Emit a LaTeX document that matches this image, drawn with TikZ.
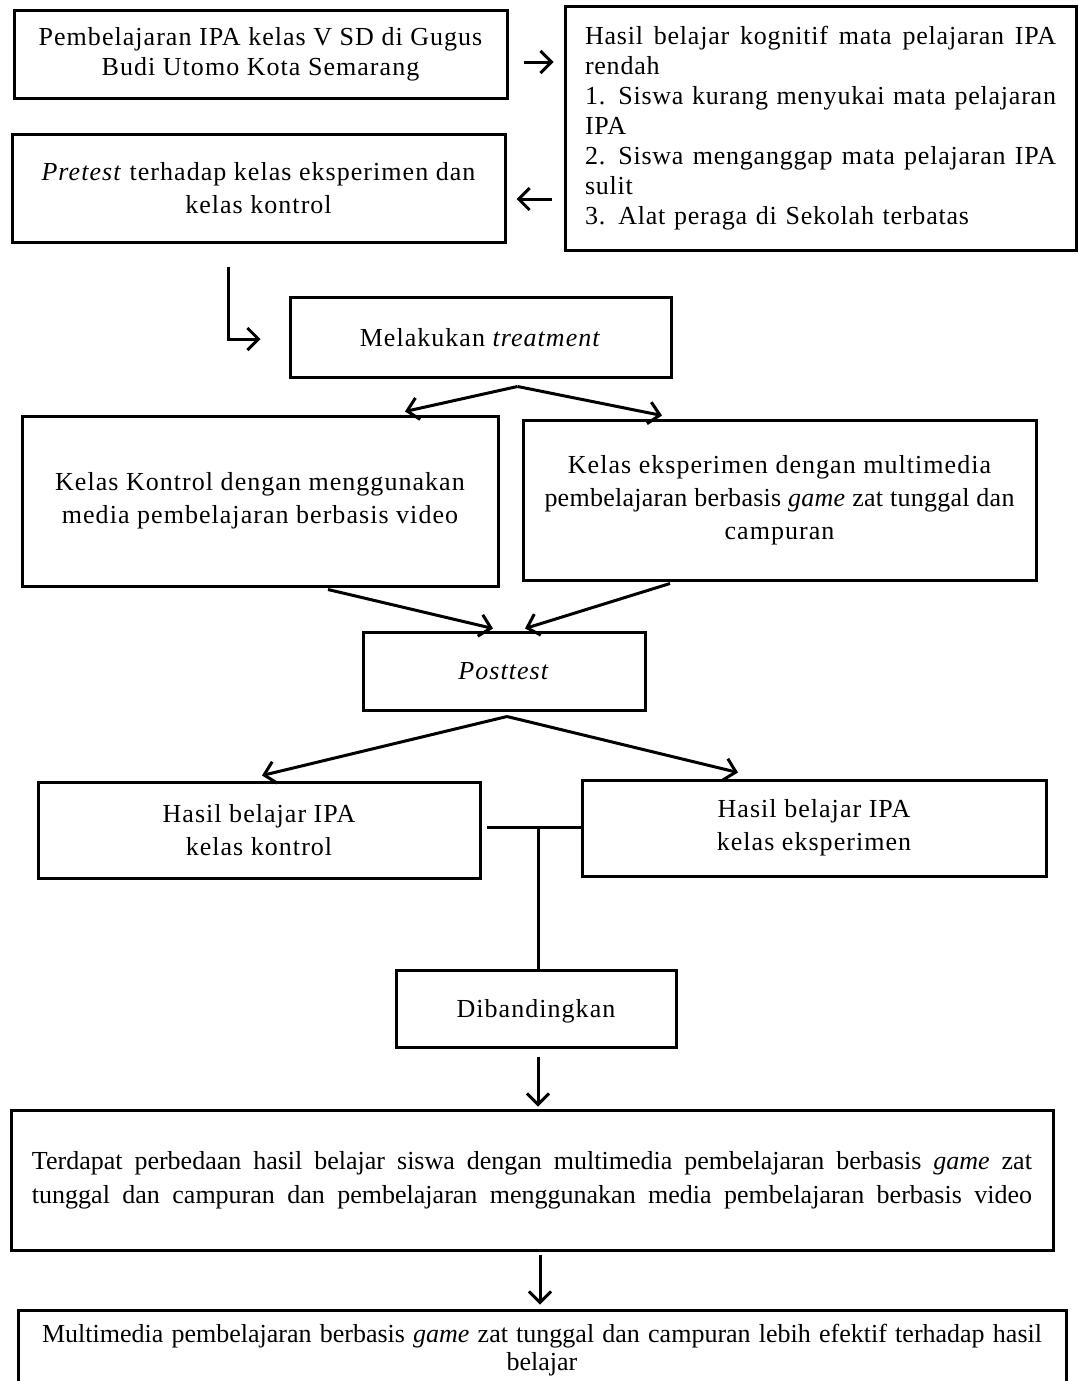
\documentclass[tikz,border=0pt]{standalone}
\usepackage{fontspec}
\setmainfont{Liberation Serif}
\newfontfamily\wide[LetterSpace=4]{Liberation Serif}
\newfontfamily\midw[LetterSpace=3]{Liberation Serif}
\newfontfamily\narrowf[LetterSpace=1]{Liberation Serif}
\newcommand\bspx{\spaceskip=0.28em plus 0.5em minus 0.05em\relax}
\usetikzlibrary{arrows.meta,calc}
\begin{document}
\begin{tikzpicture}[x=0.5pt,y=-0.5pt,
  box/.style={draw, line width=1.5pt, inner sep=0pt, align=center,
    font=\wide\fontsize{13}{16.5}\selectfont},
  arr/.style={line width=1.5pt, -{Straight Barb[length=5.5pt,width=11pt,line width=1.5pt]}},
  ln/.style={line width=1.5pt}]
\useasboundingbox (0,0) rectangle (1078,1381);
\clip (0,0) rectangle (1078,1381);
% boxes
\node[box, minimum width=246.5pt, minimum height=44pt, font=\wide\fontsize{13}{15}\selectfont] (a) at (260.5,54)
  {Pembelajaran IPA kelas V SD di Gugus\\Budi Utomo Kota Semarang};
\node[box, align=left, text width=235.5pt, inner xsep=10pt, minimum height=122pt,
  font=\midw\fontsize{13}{15}\selectfont] (b) at (820.5,128)
  {\makebox[235.5pt][s]{\bspx Hasil belajar kognitif mata pelajaran IPA}\\
   rendah\\
   \makebox[235.5pt][s]{\bspx 1. Siswa kurang menyukai mata pelajaran}\\
   IPA\\
   \makebox[235.5pt][s]{\bspx 2. Siswa menganggap mata pelajaran IPA}\\
   sulit\\
   3. Alat peraga di Sekolah terbatas};
\node[box, minimum width=246.5pt, minimum height=54pt] (c) at (258.5,188)
  {\textit{Pretest} terhadap kelas eksperimen dan\\kelas kontrol};
\node[box, minimum width=190.5pt, minimum height=40pt, text depth=-2pt] (d) at (480.5,337)
  {Melakukan \textit{treatment}};
\node[box, minimum width=238pt, minimum height=85pt] (e) at (260,501)
  {Kelas Kontrol dengan menggunakan\\media pembelajaran berbasis video};
\node[box, minimum width=256.5pt, minimum height=80pt] (f) at (779.5,500)
  {Kelas eksperimen dengan multimedia\\
   \makebox[235pt][s]{\narrowf pembelajaran berbasis \textit{game} zat tunggal dan}\\campuran};
\node[box, minimum width=141pt, minimum height=39pt, text depth=-2pt] (g) at (504,671)
  {\textit{Posttest}};
\node[box, minimum width=221pt, minimum height=48pt] (h) at (259,830)
  {Hasil belajar IPA\\kelas kontrol};
\node[box, minimum width=232pt, minimum height=48pt] (i) at (814,828)
  {Hasil belajar IPA\\kelas eksperimen};
\node[box, minimum width=140pt, minimum height=38.5pt, text depth=-2pt] (j) at (536,1008.5)
  {Dibandingkan};
\node[box, minimum width=521pt, minimum height=70pt, font=\fontsize{13}{17}\selectfont] (k) at (532,1180)
  {\makebox[500pt][s]{Terdapat perbedaan hasil belajar siswa dengan multimedia pembelajaran berbasis \textit{game} zat}\\
   \makebox[500pt][s]{tunggal dan campuran dan pembelajaran menggunakan media pembelajaran berbasis video}};
\node[box, minimum width=524pt, minimum height=40pt, font=\fontsize{13}{14}\selectfont] (l) at (542,1350)
  {\makebox[500pt][s]{Multimedia pembelajaran berbasis \textit{game} zat tunggal dan campuran lebih efektif terhadap hasil}\\
   belajar};
% connectors
\draw[arr] ($(a.east)+(15,8)$) -- ($(b.west)+(-10,-66)$);
\draw[arr] ($(b.west)+(-12,71)$) -- ($(c.east)+(10,11)$);
\draw[arr] ($(c.south)+(-30,23)$) |- ($(d.west)+(-28,2)$);
\coordinate (df) at ($(d.south)+(37,8)$);
\draw[arr] (df) -- ($(e.north)+(145,-3)$);
\draw[arr] (df) -- ($(f.north)+(-117.5,-3)$);
\draw[arr] ($(e.south)+(68,2)$) -- ($(g.north)+(-11,-2)$);
\draw[arr] ($(f.south)+(-109.5,2)$) -- ($(g.north)+(21,-2)$);
\coordinate (gf) at ($(g.south)+(3,5)$);
\draw[arr] (gf) -- ($(h.north)+(3,-5)$);
\draw[arr] (gf) -- ($(i.north)+(-76,-6)$);
\draw[ln] ($(h.east)+(5,-3)$) -- ($(i.west)+(0,-1)$);
\coordinate (hi) at ($(j.north)+(2,-143)$);
\draw[ln] (hi) -- (hi |- j.north);
\draw[arr] ($(j.south)+(2,8)$) -- ($(k.north)+(6,-2)$);
\draw[arr] ($(k.south)+(8,3)$) -- ($(l.north)+(-2,-4)$);
\end{tikzpicture}
\end{document}
